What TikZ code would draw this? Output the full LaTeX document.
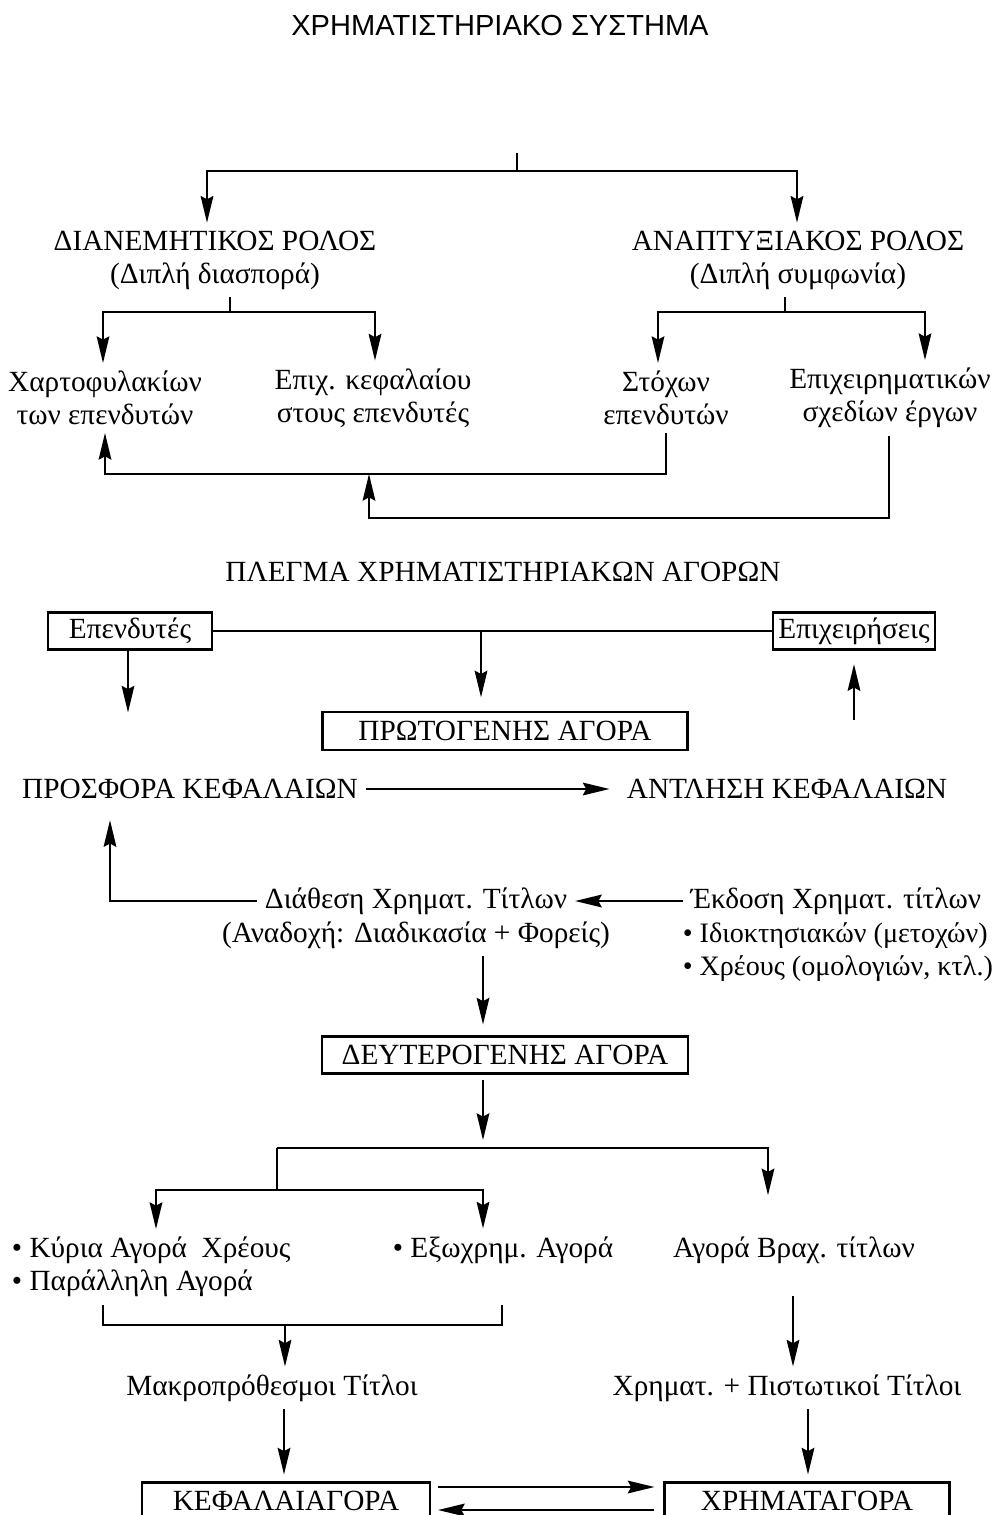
\documentclass[tikz,border=0pt]{standalone}
\usepackage{fontspec}
\setmainfont{Liberation Serif}
\setsansfont{Liberation Sans}
\usetikzlibrary{arrows.meta,positioning}

\newcommand{\bigbul}{•\ }

\begin{document}
\begin{tikzpicture}[x=0.15mm, y=-0.15mm,
			lbl/.style={inner sep=0pt, outer sep=1.2mm, align=center, font=\fontsize{12.5}{14.1}\selectfont},
			box/.style={rectangle, draw, line width=0.9pt, inner sep=0pt, outer sep=0pt, minimum height=5.55mm, font=\fontsize{12.5}{14.1}\selectfont},
			line/.style={line width=0.9pt},
			arr/.style={line width=0.9pt, -{Stealth[length=4mm, width=1.9mm, inset=0.5mm]}}
		]
		\useasboundingbox (0,0) rectangle (1001,1515);
		\clip (0,0) rectangle (1001,1515);

		% Title
		\node[lbl, font=\sffamily\fontsize{12.4}{14}\selectfont] (title) at (500,25) {ΧΡΗΜΑΤΙΣΤΗΡΙΑΚΟ ΣΥΣΤΗΜΑ};

		% Roles
		\node[lbl] (dian) at (215,260) {ΔΙΑΝΕΜΗΤΙΚΟΣ ΡΟΛΟΣ\\(Διπλή διασπορά)};
		\node[lbl] (anapt) at (798,260) {ΑΝΑΠΤΥΞΙΑΚΟΣ ΡΟΛΟΣ\\(Διπλή συμφωνία)};
		\coordinate (top) at (517,153);
		\coordinate (s0) at (517,171);
		\draw[line] (top) -- (s0);
		\draw[arr] (s0) -| (207,0 |- dian.north);
		\draw[arr] (s0) -| (797,0 |- anapt.north);

		% Sub-items
		\node[lbl] (xart) at (105,398) {Χαρτοφυλακίων\\των επενδυτών};
		\node[lbl] (epix) at (373,398) {Επιχ. κεφαλαίου\\στους επενδυτές};
		\node[lbl] (stox) at (666,398) {Στόχων\\επενδυτών};
		\node[lbl] (sxed) at (890,398) {Επιχειρηματικών\\σχεδίων έργων};
		\coordinate (s1) at (230,312);
		\coordinate (s2) at (785,312);
		\draw[line] (dian.south -| s1) -- (s1);
		\draw[arr] (s1) -| (103,0 |- xart.north);
		\draw[arr] (s1) -| (375,0 |- epix.north);
		\draw[line] (anapt.south -| s2) -- (s2);
		\draw[arr] (s2) -| (658,0 |- stox.north);
		\draw[arr] (s2) -| (925,0 |- sxed.north);

		% Feedback
		\coordinate (fb) at (369,474);
		\draw[arr] (stox.south) -- (stox.south |- fb) -| (xart.south);
		\draw[arr] (889,0 |- sxed.south) -- (889,518) -| (fb);

		% Primary market
		\node[lbl] (plegma) at (503,572) {ΠΛΕΓΜΑ ΧΡΗΜΑΤΙΣΤΗΡΙΑΚΩΝ ΑΓΟΡΩΝ};
		\node[box, minimum width=24.6mm] (invest) at (130,631) {Επενδυτές};
		\node[box, minimum width=24.3mm] (firms) at (854,631) {Επιχειρήσεις};
		\node[box, minimum width=54.75mm, minimum height=5.7mm] (prim) at (505,731) {ΠΡΩΤΟΓΕΝΗΣ ΑΓΟΡΑ};
		\coordinate (pm) at (481,631);
		\draw[line] (invest) -- (firms);
		\draw[arr, shorten >=2.2mm] (pm) -- (pm |- prim.north);
		\draw[arr] ([xshift=-0.3mm]invest.south) -- ++(0,63);
		\draw[arr, shorten >=2.2mm] ([yshift=-10.5mm]firms.south) -- (firms.south);

		\node[lbl] (offer) at (190,789) {ΠΡΟΣΦΟΡΑ ΚΕΦΑΛΑΙΩΝ};
		\node[lbl] (raise) at (787,789) {ΑΝΤΛΗΣΗ ΚΕΦΑΛΑΙΩΝ};
		\draw[arr, shorten >=1.4mm] (offer) -- (raise);

		% Issue and placement
		\node[lbl] (diath) at (416,901) {Διάθεση Χρηματ. Τίτλων};
		\node[lbl, below=-1.35mm of diath] (anad) {(Αναδοχή: Διαδικασία + Φορείς)};
		\node[lbl] (ekd) at (836,901) {Έκδοση Χρηματ. τίτλων};
		\node[lbl, align=left, font=\fontsize{12}{14.1}\selectfont, below=-1.2mm of ekd.south west, anchor=north west, xshift=-1.2mm] (ekdl) {\bigbul Ιδιοκτησιακών (μετοχών)\\\bigbul Χρέους (ομολογιών, κτλ.)};
		\draw[arr] (ekd) -- (diath);
		\draw[arr, shorten >=2mm] (diath.west) -| (110,0 |- offer.south);

		% Secondary market
		\node[box, minimum width=54.9mm] (sec) at (505,1055) {ΔΕΥΤΕΡΟΓΕΝΗΣ ΑΓΟΡΑ};
		\draw[arr, shorten >=1.8mm] (483,0 |- anad.south) -- (483,0 |- sec.north);
		\coordinate (s3) at (483,1148);
		\coordinate (s4) at (277,1148);
		\coordinate (s5) at (277,1190);
		\draw[arr, shorten <=0.9mm, shorten >=1.2mm] (sec.south -| s3) -- (s3);
		\node[lbl, align=left, anchor=west] (kyria) at (4,1267) {\bigbul Κύρια Αγορά\ \ Χρέους\\\bigbul Παράλληλη Αγορά};
		\node[lbl] (exo) at (503,1250) {\bigbul Εξωχρημ. Αγορά};
		\node[lbl] (brax) at (794,1250) {Αγορά Βραχ. τίτλων};
		\draw[line] (s4) -- (s5);
		\draw[arr, shorten >=5mm] (s4) -| (768,0 |- brax.north);
		\draw[arr] (s5) -| (156,0 |- kyria.north);
		\draw[arr] (s5) -| (483,0 |- exo.north);

		% Securities
		\coordinate (br) at (285,1325);
		\draw[line] (103,0 |- kyria.south) |- (502,1325) -- (502,0 |- kyria.south);
		\node[lbl] (makro) at (272,1388) {Μακροπρόθεσμοι Τίτλοι};
		\node[lbl] (xrim) at (787,1388) {Χρηματ. + Πιστωτικοί Τίτλοι};
		\draw[arr] (br) -- (br |- makro.north);
		\draw[arr, shorten <=3.7mm] (793,0 |- brax.south) -- (793,0 |- xrim.north);

		% Markets
		\node[box, minimum width=43.2mm] (kef) at (286,1501) {ΚΕΦΑΛΑΙΑΓΟΡΑ};
		\node[box, minimum width=42.75mm] (xrag) at (807,1501) {ΧΡΗΜΑΤΑΓΟΡΑ};
		\draw[arr, shorten >=1.2mm] (284,0 |- makro.south) -- (284,0 |- kef.north);
		\draw[arr, shorten >=1.2mm] (808,0 |- xrim.south) -- (808,0 |- xrag.north);
		\draw[arr, shorten <=1.2mm, shorten >=1.5mm] (kef.east |- 0,1487) -- (xrag.west |- 0,1487);
		\draw[arr, shorten <=1.5mm, shorten >=1.2mm] (xrag.west |- 0,1510) -- (kef.east |- 0,1510);

	\end{tikzpicture}
\end{document}
